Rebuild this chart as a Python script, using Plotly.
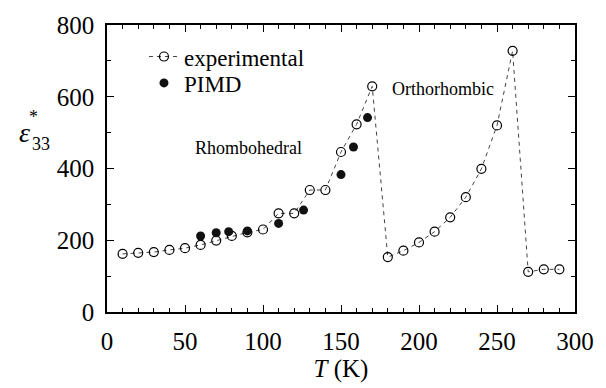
import plotly.graph_objects as go

exp_T = [10, 20, 30, 40, 50, 60, 70, 80, 90, 100, 110, 120, 130, 140, 150, 160, 170,
         180, 190, 200, 210, 220, 230, 240, 250, 260, 270, 280, 290]
exp_eps = [162, 165, 167, 173, 178, 187, 199, 212, 222, 230, 275, 275, 340, 340, 446, 523, 629,
           153, 171, 194, 224, 264, 320, 399, 520, 728, 112, 119, 119]
pimd_T = [60, 70, 78, 90, 110, 126, 150, 158, 167]
pimd_eps = [212, 221, 224, 226, 247, 284, 383, 460, 542]

FONT = "Liberation Serif, Times New Roman, serif"

fig = go.Figure()
fig.add_trace(go.Scatter(
    x=exp_T, y=exp_eps, mode="lines+markers", name="experimental", legend="legend",
    showlegend=True,
    line=dict(color="#444", width=1, dash="4px,4px"),
    marker=dict(symbol="circle-open", size=9, color="black", line=dict(width=1.2)),
))
fig.add_trace(go.Scatter(
    x=pimd_T, y=pimd_eps, mode="markers", name="PIMD", legend="legend2",
    showlegend=True,
    marker=dict(symbol="circle", size=9, color="#111"),
))

axis_common = dict(
    showgrid=False, zeroline=False, showline=True, linecolor="black", linewidth=1.5,
    mirror="ticks", ticks="inside", ticklen=7, tickwidth=1.2, tickcolor="black",
    tickfont=dict(family=FONT, size=25, color="black"),
)
fig.update_xaxes(range=[0, 300], tick0=0, dtick=50, ticklabelstandoff=6,
                 minor=dict(dtick=10, ticks="inside", ticklen=4, tickcolor="black", tickwidth=1.2),
                 title=dict(text="<i>T</i> (K)", font=dict(family=FONT, size=25, color="black"), standoff=4),
                 **axis_common)
fig.update_yaxes(range=[0, 800], tick0=0, dtick=200, ticklabelstandoff=6,
                 minor=dict(dtick=100, ticks="inside", ticklen=4, tickcolor="black", tickwidth=1.2),
                 **axis_common)

fig.add_annotation(x=-0.177, y=0.627, xref="paper", yref="paper", text="<i>ε</i>", xanchor="center", yanchor="middle",
                   showarrow=False, font=dict(family=FONT, size=28, color="black"))
fig.add_annotation(x=-0.158, y=0.68, xref="paper", yref="paper", text="*", xanchor="center", yanchor="middle",
                   showarrow=False, font=dict(family=FONT, size=18, color="black"))
fig.add_annotation(x=-0.140, y=0.585, xref="paper", yref="paper", text="33", xanchor="center", yanchor="middle",
                   showarrow=False, font=dict(family=FONT, size=18, color="black"))
fig.add_annotation(x=0.302, y=0.57, xref="paper", yref="paper", text="Rhombohedral", xanchor="center", yanchor="middle",
                   showarrow=False, font=dict(family=FONT, size=18, color="black"))
fig.add_annotation(x=0.717, y=0.777, xref="paper", yref="paper", text="Orthorhombic", xanchor="center", yanchor="middle",
                   showarrow=False, font=dict(family=FONT, size=18, color="black"))

leg_common = dict(xanchor="left", yanchor="middle", bgcolor="rgba(0,0,0,0)",
                  font=dict(family=FONT, size=23, color="black"))
fig.update_layout(
    width=606, height=388,
    margin=dict(l=107, r=20, t=23, b=73),
    paper_bgcolor="white", plot_bgcolor="white",
    showlegend=True,
    legend=dict(x=0.079, y=0.890, **leg_common),
    legend2=dict(x=0.079, y=0.798, **leg_common),
    font=dict(family=FONT),
)

fig.write_html("out.html")
